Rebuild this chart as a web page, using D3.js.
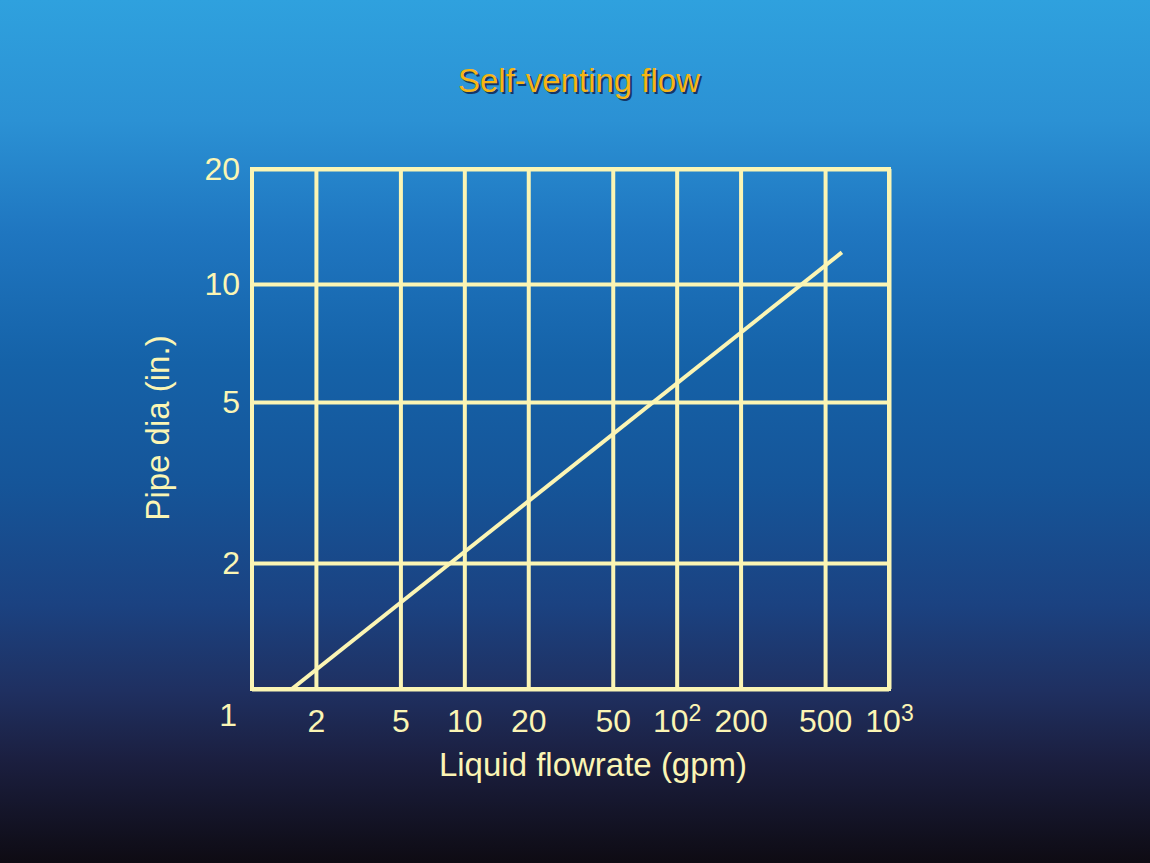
<!DOCTYPE html>
<html>
<head>
<meta charset="utf-8">
<script src="https://cdn.jsdelivr.net/npm/d3@7"></script>
<style>
  html, body { margin: 0; padding: 0; background: #0f0c14; }
  svg { display: block; font-family: "Liberation Sans", Arial, Helvetica, sans-serif; }
</style>
</head>
<body>
<svg id="chart"></svg>
<script>
// chart data
const xTicks = [2, 5, 10, 20, 50, 100, 200, 500, 1000];
const xTickLabels = ["2", "5", "10", "20", "50", "10^2", "200", "500", "10^3"];
const yTicks = [1, 2, 5, 10, 20];
const yTickLabels = ["1", "2", "5", "10", "20"];
// self-venting line (gpm, in.)
const flowGpm = [1.54, 600];
const pipeDia = [1, 12.1];

const width = 1150, height = 863;
const plot = { left: 252, right: 889, top: 169, bottom: 689 };
const cream = "#fbf5b4";

const svg = d3.select("#chart")
  .attr("width", width)
  .attr("height", height);

// background gradient
const grad = svg.append("defs").append("linearGradient")
  .attr("id", "bg")
  .attr("x1", 0).attr("y1", 0).attr("x2", 0).attr("y2", 1);
[[0, "#2fa1de"], [0.14, "#2b91d4"], [0.27, "#1f76c0"], [0.42, "#1562a8"],
 [0.56, "#155599"], [0.70, "#1b4281"], [0.80, "#1f3061"], [0.88, "#1b1f40"],
 [1, "#0e0b13"]].forEach(s => {
  grad.append("stop").attr("offset", s[0]).attr("stop-color", s[1]);
});
svg.append("rect")
  .attr("width", width).attr("height", height)
  .attr("fill", "url(#bg)");

// scales: x is plain log, y axis on the original was hand drawn so it's a piecewise log
const x = d3.scaleLog()
  .domain([1, 1000])
  .range([plot.left, plot.right]);

const y = d3.scaleLog()
  .domain(yTicks)
  .range([plot.bottom, 563, 402, 284, plot.top]);

// title
const title = svg.append("g").attr("transform", "translate(579,92)");
title.append("text")
  .attr("x", 2).attr("y", 2)
  .attr("text-anchor", "middle")
  .attr("font-size", 33)
  .attr("fill", "#143766")
  .text("Self-venting flow");
title.append("text")
  .attr("text-anchor", "middle")
  .attr("font-size", 33)
  .attr("fill", "#f7b514")
  .text("Self-venting flow");

// horizontal grid + y labels
const yAxis = svg.append("g")
  .attr("transform", `translate(${plot.left},0)`)
  .call(d3.axisLeft(y)
    .tickValues(yTicks)
    .tickFormat((d, i) => yTickLabels[i])
    .tickSizeInner(-(plot.right - plot.left))
    .tickSizeOuter(0)
    .tickPadding(12));

// vertical grid + x labels
const xAxis = svg.append("g")
  .attr("transform", `translate(0,${plot.bottom})`)
  .call(d3.axisBottom(x)
    .tickValues(xTicks)
    .tickFormat((d, i) => xTickLabels[i])
    .tickSizeInner(-(plot.bottom - plot.top))
    .tickSizeOuter(0)
    .tickPadding(20));

[yAxis, xAxis].forEach(g => {
  g.select(".domain").remove();
  g.selectAll(".tick line")
    .attr("stroke", cream)
    .attr("stroke-width", 4);
  g.selectAll(".tick text")
    .attr("fill", cream)
    .attr("font-size", 32)
    .attr("font-family", "'Liberation Sans', Arial, sans-serif");
});

// the "1" sits lower than the bottom line
yAxis.selectAll(".tick text")
  .filter(d => d === 1)
  .attr("dy", "1.15em")
  .attr("x", -15);

// superscript powers of ten
xAxis.selectAll(".tick text").each(function () {
  const t = d3.select(this);
  const s = t.text();
  if (s.includes("^")) {
    const [base, exp] = s.split("^");
    t.text(null);
    t.append("tspan").text(base);
    t.append("tspan")
      .attr("font-size", 23)
      .attr("dy", -11)
      .text(exp);
  }
});

// frame
svg.append("rect")
  .attr("x", x(1)).attr("y", y(20))
  .attr("width", x(1000) - x(1))
  .attr("height", y(1) - y(20))
  .attr("fill", "none")
  .attr("stroke", cream)
  .attr("stroke-width", 4);

// the line
const pts = flowGpm.map((f, i) => [f, pipeDia[i]]);
svg.append("path")
  .datum(pts)
  .attr("fill", "none")
  .attr("stroke", cream)
  .attr("stroke-width", 4)
  .attr("d", d3.line().x(d => x(d[0])).y(d => y(d[1])));

// axis titles
svg.append("text")
  .attr("x", 593).attr("y", 776)
  .attr("text-anchor", "middle")
  .attr("font-size", 33)
  .attr("fill", cream)
  .text("Liquid flowrate (gpm)");

svg.append("text")
  .attr("transform", "translate(169,428) rotate(-90)")
  .attr("text-anchor", "middle")
  .attr("font-size", 33)
  .attr("fill", cream)
  .text("Pipe dia (in.)");
</script>
</body>
</html>
